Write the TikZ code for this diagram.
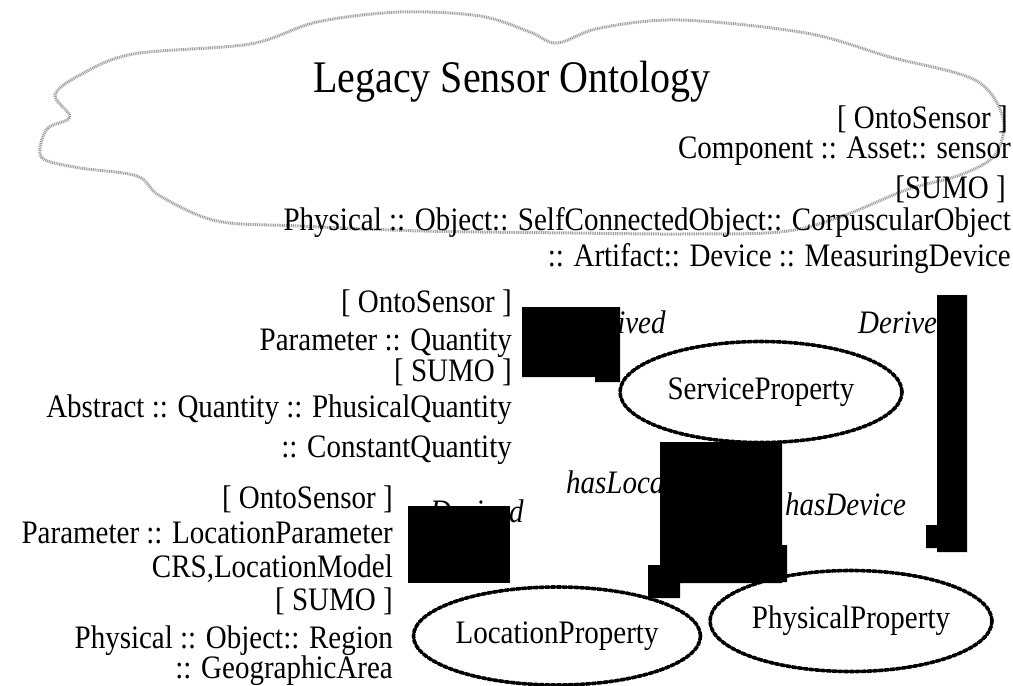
\documentclass[tikz,border=0pt]{standalone}
\usepackage{fontspec}
\setmainfont{Liberation Serif}
\usepackage{graphicx}
\usetikzlibrary{shapes.geometric}

% the labels are set a little taller than the font
\newcommand{\tallbox}[1]{\scalebox{1}[1.13]{#1}}

\begin{document}
\begin{tikzpicture}[x=1pt,y=-1pt,
  txt/.style={anchor=base east,inner sep=0pt,font=\fontsize{29}{32}\selectfont},
  rel/.style={anchor=base west,inner sep=0pt,font=\fontsize{29}{32}\selectfont\itshape},
  prop/.style={ellipse,draw,line width=3.6pt,dash pattern=on 4pt off 1.8pt,line cap=round,
    inner sep=0pt,minimum width=282pt,minimum height=101pt,font=\fontsize{29}{32}\selectfont}]
  \useasboundingbox (0,0) rectangle (1013,686);
  % cloud round the legacy ontology
  \draw[gray!75,line width=3pt,dash pattern=on 1pt off 0.8pt] plot[smooth cycle,tension=0.55] coordinates {
    (40,148) (48,128) (70,117) (55,95) (80,75) (133,54) (250,44) (317,22) (400,12) (480,16)
    (530,32) (557,43) (600,28) (680,20) (806,33) (890,57) (975,80) (1003,118) (995,155)
    (960,175) (906,190) (840,217) (780,232) (680,234) (573,233) (423,231) (300,226)
    (217,221) (160,196) (137,176) (80,168) (45,160)};
  \node[anchor=base,inner sep=0pt,font=\fontsize{40}{44}\selectfont] (title) at (512,92) {\tallbox{Legacy Sensor Ontology}};
  % sensor
  \node[txt] (sOnto) at (1008,128) {\tallbox{[ OntoSensor ]}};
  \node[txt] (sComp) at (1011,158) {\tallbox{Component :: Asset:: sensor}};
  \node[txt] (sSumo) at (1006,198) {\tallbox{[SUMO ]}};
  \node[txt] (sPhys) at (1011,230) {\tallbox{Physical :: Object:: SelfConnectedObject:: CorpuscularObject}};
  \node[txt] (sArti) at (1011,266) {\tallbox{:: Artifact:: Device :: MeasuringDevice}};
  % quantity
  \node[txt] (qOnto) at (512,312) {\tallbox{[ OntoSensor ]}};
  \node[txt] (qPara) at (512,350) {\tallbox{Parameter :: Quantity}};
  \node[txt] (qSumo) at (512,381) {\tallbox{[ SUMO ]}};
  \node[txt] (qAbst) at (512,417) {\tallbox{Abstract :: Quantity :: PhusicalQuantity}};
  \node[txt] (qCons) at (512,457) {\tallbox{:: ConstantQuantity}};
  % location
  \node[txt] (lOnto) at (393,508) {\tallbox{[ OntoSensor ]}};
  \node[txt] (lPara) at (393,543) {\tallbox{Parameter :: LocationParameter}};
  \node[txt] (lCrs)  at (393,577) {\tallbox{CRS,LocationModel}};
  \node[txt] (lSumo) at (393,610) {\tallbox{[ SUMO ]}};
  \node[txt] (lPhys) at (393,648) {\tallbox{Physical :: Object:: Region}};
  \node[txt] (lGeo)  at (393,678) {\tallbox{:: GeographicArea}};
  % properties
  \node[prop] (service) at (761,392) {\tallbox{ServiceProperty}};
  \node[prop] (physical) at (851,621) {\tallbox{PhysicalProperty}};
  \node[prop,minimum width=285pt,minimum height=98pt] (location) at (557,636) {\tallbox{LocationProperty}};
  % relation labels
  \node[rel] (derQ) at (572,333) {\tallbox{Derived}};
  \node[rel] (derS) at (858,333) {\tallbox{Derived}};
  \node[rel] (hasLoc) at (566,493) {\tallbox{hasLocation}};
  \node[rel] (hasDev) at (785,515) {\tallbox{hasDevice}};
  \node[rel] (derL) at (430,522) {\tallbox{Derived}};
  % black blocks
  \fill (522,307) rectangle (620,377) (595,377) rectangle (620,382);
  \fill (937,295) rectangle (967,552) (926,525) rectangle (937,548);
  \fill (660,442) rectangle (782,583) (773,545) rectangle (787,582) (648,565) rectangle (680,598);
  \fill (408,506) rectangle (510,583);
\end{tikzpicture}
\end{document}
